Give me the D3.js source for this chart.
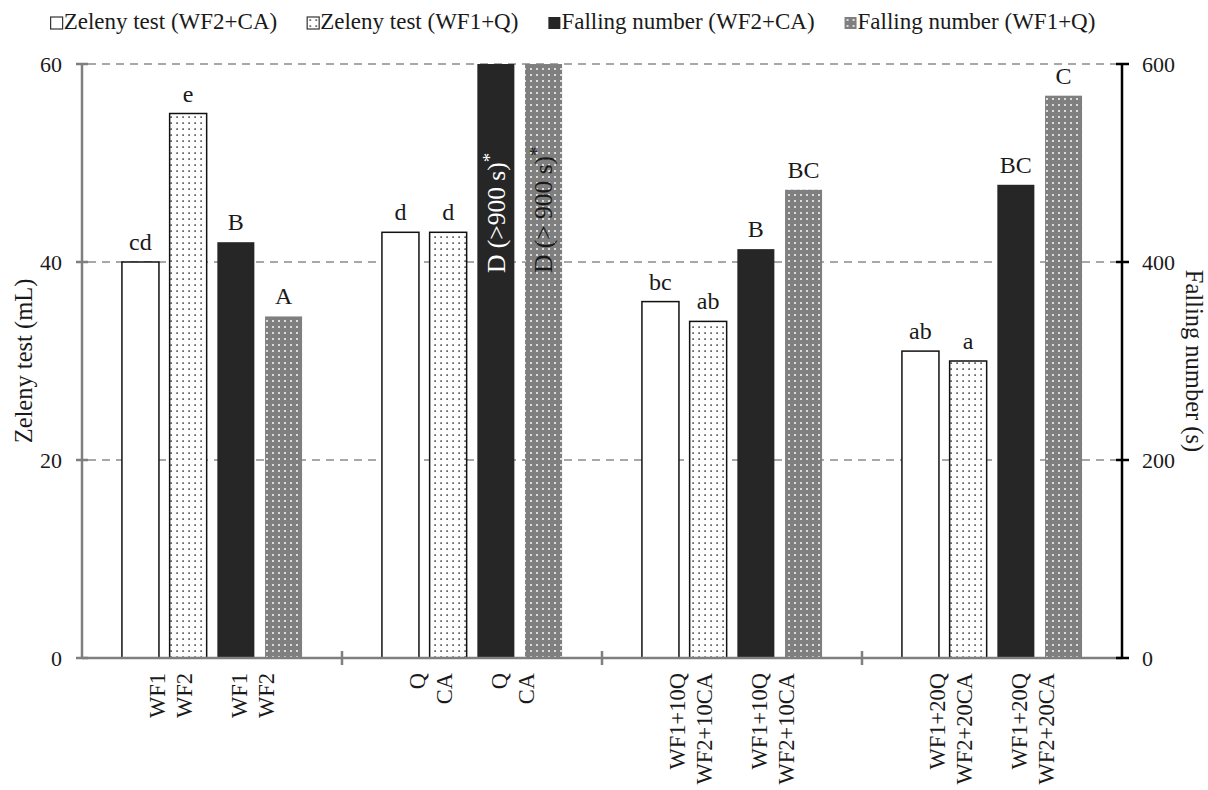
<!DOCTYPE html>
<html><head><meta charset="utf-8">
<script src="https://cdn.jsdelivr.net/npm/d3@7"></script>
<style>body{margin:0;background:#fff}svg text{font-family:"Liberation Serif","Times New Roman",serif;fill:#1a1a1a}</style>
</head><body><svg id="c" width="1208" height="790"></svg>
<script>
const groups = ["G1","G2","G3","G4"];
const seriesNames = ["Zeleny test (WF2+CA)","Zeleny test (WF1+Q)","Falling number (WF2+CA)","Falling number (WF1+Q)"];
const zelenyWF2CA = [40,43,36,31];
const zelenyWF1Q = [55,43,34,30];
const fallingWF2CA = [420,900,413,478];
const fallingWF1Q = [345,900,473,568];
const lettersZelenyWF2CA = ["cd","d","bc","ab"];
const lettersZelenyWF1Q = ["e","d","ab","a"];
const lettersFallingWF2CA = ["B","D (>900 s)","B","BC"];
const lettersFallingWF1Q = ["A","D (> 900 s)","BC","C"];
const pairLabelsZeleny = [["WF1","WF2"],["Q","CA"],["WF1+10Q","WF2+10CA"],["WF1+20Q","WF2+20CA"]];
const pairLabelsFalling = [["WF1","WF2"],["Q","CA"],["WF1+10Q","WF2+10CA"],["WF1+20Q","WF2+20CA"]];
const zelenyTicks = [0,20,40,60];
const fallingTicks = [0,200,400,600];

const svg = d3.select("#c");
const L = 82, R = 1122, T = 64, B = 658;
const FS_TICK = 22, FS_X = 22.5, FS_LET = 24, FS_TITLE = 24.5, FS_LEG = 23, FS_ROT = 25.5;

const defs = svg.append("defs");
const p1 = defs.append("pattern").attr("id","dots").attr("patternUnits","userSpaceOnUse").attr("width",6).attr("height",6);
p1.append("rect").attr("width",6).attr("height",6).attr("fill","#fff");
p1.append("rect").attr("x",2.4).attr("y",2.4).attr("width",1.4).attr("height",1.4).attr("fill","#111");
const p2 = defs.append("pattern").attr("id","gdots").attr("patternUnits","userSpaceOnUse").attr("width",6).attr("height",6);
p2.append("rect").attr("width",6).attr("height",6).attr("fill","#7f7f7f");
p2.append("rect").attr("x",2).attr("y",2).attr("width",2).attr("height",2).attr("fill","#dcdcdc");

const x0 = d3.scaleBand().domain(groups).range([L,R]).padding(0);
const x1 = d3.scaleBand().domain(d3.range(4)).range([0,x0.bandwidth()]).paddingInner(0.224).paddingOuter(0.837);
const yL = d3.scaleLinear().domain([0,60]).range([B,T]);
const yR = d3.scaleLinear().domain([0,600]).range([B,T]).clamp(true);

svg.append("g").selectAll("line").data(zelenyTicks.filter(d=>d>0)).join("line")
  .attr("x1",L+6).attr("x2",R-6).attr("y1",d=>yL(d)).attr("y2",d=>yL(d))
  .attr("stroke","#8c8c8c").attr("stroke-width",1.5).attr("stroke-dasharray","8,6");

const series = [
  {vals:zelenyWF2CA, letters:lettersZelenyWF2CA, y:yL, fill:"#fff", stroke:"#111"},
  {vals:zelenyWF1Q, letters:lettersZelenyWF1Q, y:yL, fill:"url(#dots)", stroke:"#111"},
  {vals:fallingWF2CA, letters:lettersFallingWF2CA, y:yR, fill:"#262626", stroke:"none", inColor:"#fff"},
  {vals:fallingWF1Q, letters:lettersFallingWF1Q, y:yR, fill:"url(#gdots)", stroke:"none", inColor:"#1a1a1a"}
];

series.forEach((s,si)=>{
  const g = svg.append("g");
  groups.forEach((grp,gi)=>{
    const v = s.vals[gi];
    const bx = x0(grp)+x1(si), bw = x1.bandwidth();
    const top = s.y(v);
    g.append("rect").attr("x",bx).attr("y",top).attr("width",bw).attr("height",B-top)
      .attr("fill",s.fill).attr("stroke",s.stroke).attr("stroke-width",1.5);
    const over = v > s.y.domain()[1];
    if(over){
      const t = g.append("text").attr("transform",`translate(${bx+bw/2},273) rotate(-90)`)
        .attr("text-anchor","start").attr("dy","0.35em").attr("font-size",FS_ROT)
        .style("fill",s.inColor);
      t.append("tspan").text(s.letters[gi]);
      t.append("tspan").attr("dy",-9).attr("font-size",19).text("*");
    } else {
      g.append("text").attr("x",bx+bw/2).attr("y",top-12).attr("text-anchor","middle")
        .attr("font-size",FS_LET).text(s.letters[gi]);
    }
  });
});

svg.append("line").attr("x1",L).attr("x2",R).attr("y1",B).attr("y2",B).attr("stroke","#7f7f7f").attr("stroke-width",2.5);
svg.append("g").selectAll("line").data(groups.slice(1)).join("line")
  .attr("x1",d=>x0(d)).attr("x2",d=>x0(d)).attr("y1",B-7).attr("y2",B+7)
  .attr("stroke","#7f7f7f").attr("stroke-width",2.5);

const xl = svg.append("g");
groups.forEach((grp,gi)=>{
  const c = x0(grp)+x0.bandwidth()/2;
  [[pairLabelsZeleny[gi],c-41],[pairLabelsFalling[gi],c+41]].forEach(([lines,cx])=>{
    lines.forEach((ln,li)=>{
      xl.append("text").attr("transform",`translate(${cx+(li===0?-13.5:13.5)},673) rotate(-90)`)
        .attr("text-anchor","end").attr("dy","0.35em").attr("font-size",FS_X).text(ln);
    });
  });
});

const la = svg.append("g");
la.append("line").attr("x1",L).attr("x2",L).attr("y1",T).attr("y2",B+1).attr("stroke","#7f7f7f").attr("stroke-width",2.5);
la.selectAll("line.t").data(zelenyTicks).join("line").attr("class","t")
  .attr("x1",L-6).attr("x2",L+6).attr("y1",d=>yL(d)).attr("y2",d=>yL(d)).attr("stroke","#7f7f7f").attr("stroke-width",2.5);
la.selectAll("text").data(zelenyTicks).join("text").attr("x",62).attr("y",d=>yL(d)).attr("dy","0.35em")
  .attr("text-anchor","end").attr("font-size",FS_TICK).text(d=>d);
svg.append("text").attr("transform",`translate(23,${(T+B)/2}) rotate(-90)`).attr("text-anchor","middle")
  .attr("dy","0.35em").attr("font-size",FS_TITLE).text("Zeleny test (mL)");

const ra = svg.append("g");
ra.append("line").attr("x1",R).attr("x2",R).attr("y1",T).attr("y2",B).attr("stroke","#000").attr("stroke-width",2.5);
ra.selectAll("line.t").data(fallingTicks).join("line").attr("class","t")
  .attr("x1",R-6).attr("x2",R+7).attr("y1",d=>yR(d)).attr("y2",d=>yR(d)).attr("stroke","#000").attr("stroke-width",2.5);
ra.selectAll("text").data(fallingTicks).join("text").attr("x",1142).attr("y",d=>yR(d)).attr("dy","0.35em")
  .attr("text-anchor","start").attr("font-size",FS_TICK).text(d=>d);
svg.append("text").attr("transform",`translate(1195,${(T+B)/2}) rotate(90)`).attr("text-anchor","middle")
  .attr("dy","0.35em").attr("font-size",FS_TITLE).text("Falling number (s)");

const legFills = ["#fff","url(#dots)","#262626","url(#gdots)"];
const legStrokes = ["#333","#333","none","none"];
const leg = svg.append("g");
let lx = 0;
seriesNames.forEach((n,i)=>{
  const it = leg.append("g");
  it.append("rect").attr("x",0).attr("y",-12).attr("width",12).attr("height",12)
    .attr("fill",legFills[i]).attr("stroke",legStrokes[i]).attr("stroke-width",1.2);
  const t = it.append("text").attr("x",13).attr("y",0).attr("font-size",FS_LEG).text(n);
  const w = 13 + t.node().getComputedTextLength();
  it.attr("transform",`translate(${lx},29)`);
  lx += w + 30;
});
const totalW = lx - 30;
leg.attr("transform",`translate(${573-totalW/2},0)`);
</script></body></html>
